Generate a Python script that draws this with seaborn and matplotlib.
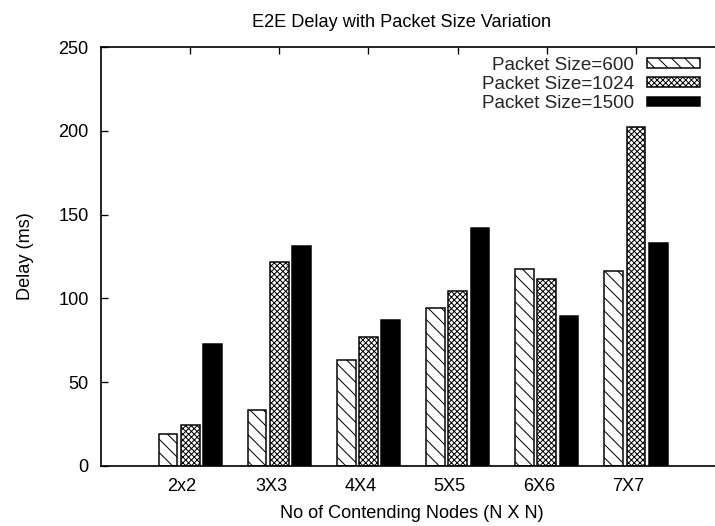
import matplotlib
matplotlib.use('Agg')
import matplotlib.pyplot as plt
import matplotlib.transforms as mtransforms
from matplotlib.patches import Patch
import seaborn as sns
import pandas as pd

categories = ['2x2', '3X3', '4X4', '5X5', '6X6', '7X7']
series_names = ['Packet Size=600', 'Packet Size=1024', 'Packet Size=1500']
delay_600 = [19.0, 33.5, 63.0, 94.5, 117.5, 116.5]
delay_1024 = [24.5, 121.5, 77.0, 104.5, 111.5, 202.0]
delay_1500 = [72.5, 131.0, 87.0, 142.0, 89.5, 133.0]
yticks = [0, 50, 100, 150, 200, 250]

title = 'E2E Delay with Packet Size Variation'
xlabel = 'No of Contending Nodes (N X N)'
ylabel = 'Delay (ms)'

rows = []
for name, vals in zip(series_names, [delay_600, delay_1024, delay_1500]):
    for c, v in zip(categories, vals):
        rows.append({'nodes': c, 'delay': v, 'series': name})
df = pd.DataFrame(rows)

sns.set_theme(style='white')
plt.rcParams['font.family'] = ['Liberation Sans', 'DejaVu Sans']
plt.rcParams['hatch.linewidth'] = 0.6
plt.rcParams['hatch.color'] = 'black'

DPI = 120
W, H = 715, 526
fig = plt.figure(figsize=(W / DPI, H / DPI), dpi=DPI)
L, R, T, B = 101, 715, 47, 466
ax = fig.add_axes([L / W, 1 - B / H, (R - L) / W, (B - T) / H])

fills = ['white', 'white', 'black']
hatches = ['\\' * 3, 'x' * 7, '']
sns.barplot(data=df, x='nodes', y='delay', hue='series', order=categories,
            hue_order=series_names, palette=fills, width=0.75, gap=0.16,
            edgecolor='black', linewidth=0.9, saturation=1, legend=False, ax=ax)
for cont, h in zip(ax.containers, hatches):
    for bar in cont:
        bar.set_hatch(h)

ax.set_xlim(-1, 5.886)
ax.set_ylim(0, 250)
ax.set_yticks(yticks)
ax.set_yticklabels([str(t) for t in yticks])

fs = 10.9
ax.tick_params(axis='both', which='major', direction='in', length=4.2, width=0.8,
               color='black', labelsize=fs, labelcolor='black')
ax.tick_params(axis='x', top=True, bottom=True, pad=7)
ax.tick_params(axis='y', left=True, right=False, pad=7.5)
for sp in ['left', 'top', 'bottom']:
    ax.spines[sp].set_visible(True)
    ax.spines[sp].set_color('black')
    ax.spines[sp].set_linewidth(1.0)
ax.spines['right'].set_visible(False)

off = mtransforms.ScaledTranslation(-8 / DPI, 0, fig.dpi_scale_trans)
for lab in ax.get_xticklabels():
    lab.set_transform(lab.get_transform() + off)

ax.set_xlabel(xlabel, fontsize=fs, color='black')
ax.set_ylabel(ylabel, fontsize=fs, color='black')
ax.xaxis.set_label_coords((411.5 - L) / (R - L), (B - 505) / (B - T))
ax.yaxis.set_label_coords((34 - L) / (R - L), 0.5)
ax.xaxis.label.set_va('top')

fig.text(402 / W, 1 - 22.5 / H, title, ha='center', va='center', fontsize=fs,
         color='black')

handles = [Patch(facecolor=f, edgecolor='black', hatch=h, linewidth=0.9)
           for f, h in zip(fills, hatches)]
ax.legend(handles=handles, labels=series_names, loc='upper right',
          bbox_to_anchor=(700 / W, 1 - 56.5 / H), bbox_transform=fig.transFigure,
          frameon=False, fontsize=11.3, markerfirst=False, handlelength=2.8,
          handleheight=0.4, handletextpad=0.7, labelspacing=0.12,
          borderpad=0, borderaxespad=0)

fig.savefig('out.png', dpi=DPI)
